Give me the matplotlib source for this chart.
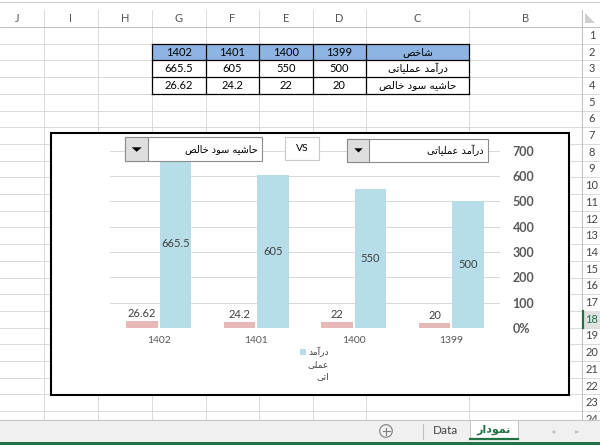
import numpy as np
import matplotlib
matplotlib.use("Agg")
import matplotlib.pyplot as plt
from matplotlib.patches import Rectangle, Polygon, Circle

# داده‌های جدول و نمودار
years = ["1399", "1400", "1401", "1402"]
revenue = [500, 550, 605, 665.5]
margin = [20, 22, 24.2, 26.62]
head_label = "شاخص"
row_labels = ["درآمد عملیاتی", "حاشیه سود خالص"]
legend_lines = ["درآمد", "عملی", "اتی"]
y_ticks = [0, 100, 200, 300, 400, 500, 600, 700]
y_tick_labels = ["0%", "100", "200", "300", "400", "500", "600", "700"]
col_letters = ["J", "I", "H", "G", "F", "E", "D", "C", "B"]
tab_names = ["Data", "نمودار"]

BLUE = "#b7dde8"
PINK = "#e6b8b7"
GREEN = "#217346"
AR = ["DejaVu Sans"]

# matplotlib has no arabic shaping, so pick presentation forms by hand
FORMS = {
    "\u0627": ("\uFE8D", "\uFE8E", None, None),
    "\u0622": ("\uFE81", "\uFE82", None, None),
    "\u062A": ("\uFE95", "\uFE96", "\uFE97", "\uFE98"),
    "\u062D": ("\uFEA1", "\uFEA2", "\uFEA3", "\uFEA4"),
    "\u062E": ("\uFEA5", "\uFEA6", "\uFEA7", "\uFEA8"),
    "\u062F": ("\uFEA9", "\uFEAA", None, None),
    "\u0631": ("\uFEAD", "\uFEAE", None, None),
    "\u0633": ("\uFEB1", "\uFEB2", "\uFEB3", "\uFEB4"),
    "\u0634": ("\uFEB5", "\uFEB6", "\uFEB7", "\uFEB8"),
    "\u0635": ("\uFEB9", "\uFEBA", "\uFEBB", "\uFEBC"),
    "\u0639": ("\uFEC9", "\uFECA", "\uFECB", "\uFECC"),
    "\u0644": ("\uFEDD", "\uFEDE", "\uFEDF", "\uFEE0"),
    "\u0645": ("\uFEE1", "\uFEE2", "\uFEE3", "\uFEE4"),
    "\u0646": ("\uFEE5", "\uFEE6", "\uFEE7", "\uFEE8"),
    "\u0647": ("\uFEE9", "\uFEEA", "\uFEEB", "\uFEEC"),
    "\u0648": ("\uFEED", "\uFEEE", None, None),
    "\u06CC": ("\uFEEF", "\uFEF0", "\uFEF3", "\uFEF4"),
}


def fa(s):
    out = []
    for i, ch in enumerate(s):
        f = FORMS.get(ch)
        if f is None:
            out.append(ch)
            continue
        prev = s[i - 1] if i > 0 else ""
        nxt = s[i + 1] if i + 1 < len(s) else ""
        jp = prev in FORMS and FORMS[prev][2] is not None
        jn = f[2] is not None and nxt in FORMS
        if jp and jn:
            out.append(f[3])
        elif jp:
            out.append(f[1])
        elif jn:
            out.append(f[2])
        else:
            out.append(f[0])
    return "".join(reversed(out))


plt.rcParams["font.family"] = ["Lato", "DejaVu Sans"]

fig = plt.figure(figsize=(6, 4.45), dpi=100)

# sheet background in pixel coords
bg = fig.add_axes([0, 0, 1, 1], zorder=0)
bg.set_xlim(0, 600)
bg.set_ylim(445, 0)
bg.axis("off")

bounds = [-9.5, 44, 97.6, 152, 205.5, 259, 312.5, 366, 469, 582]
row_h = 16.7
top = 27

bg.plot([0, 600], [1.5, 1.5], color="#d0d0d0", lw=0.8)
for xb in bounds[1:]:
    bg.plot([xb, xb], [10, 420], color="#d9d9d9", lw=0.7, zorder=1)
for k in range(26):
    yk = top + k * row_h
    bg.plot([0, 600], [yk, yk], color="#d9d9d9", lw=0.7, zorder=1)
bg.plot([0, 600], [top, top], color="#c0c0c0", lw=0.7, zorder=1)
bg.plot([582, 582], [10, 420], color="#c0c0c0", lw=0.7, zorder=1)

for j, letter in enumerate(col_letters):
    bg.text((bounds[j] + bounds[j + 1]) / 2, 19, letter, ha="center", va="center",
            fontsize=8, color="#555555")
bg.add_patch(Polygon([(585, 13), (585, 23), (595, 23)], fc="#cfcfcf", ec="none"))

bg.add_patch(Rectangle((582.5, top + 17 * row_h), 17.5, row_h, fc="#e1e1e1", ec="none", zorder=1.5))
bg.plot([582.5, 582.5], [top + 17 * row_h, top + 18 * row_h], color=GREEN, lw=1.6, zorder=2)
for r in range(1, 25):
    bg.text(592, top + (r - 0.5) * row_h, str(r), ha="center", va="center", fontsize=8,
            color=GREEN if r == 18 else "#444444", zorder=2)

# data table
t_rows = [top + row_h, top + 2 * row_h, top + 3 * row_h, top + 4 * row_h]
bg.add_patch(Rectangle((bounds[3], t_rows[0]), bounds[8] - bounds[3], row_h,
                       fc="#8db4e2", ec="none", zorder=2))
for yk in t_rows:
    bg.plot([bounds[3], bounds[8]], [yk, yk], color="black", lw=0.9, zorder=3)
for xb in bounds[3:9]:
    bg.plot([xb, xb], [t_rows[0], t_rows[3]], color="black", lw=0.9, zorder=3)
for i, yr in enumerate(years):
    xc = (bounds[6 - i] + bounds[7 - i]) / 2
    for r, val in enumerate([yr, f"{revenue[i]:g}", f"{margin[i]:g}"]):
        bg.text(xc, t_rows[r] + row_h / 2, val, ha="center", va="center", fontsize=8,
                color="black", zorder=4)
xc = (bounds[7] + bounds[8]) / 2
for r, lab in enumerate([head_label] + row_labels):
    bg.text(xc, t_rows[r] + row_h / 2, fa(lab), ha="center", va="center", fontsize=7.5,
            family=AR, color="black", zorder=4)

# chart frame
bg.add_patch(Rectangle((50.5, 132.5), 518.5, 262, fc="white", ec="black", lw=1.5, zorder=5))

# sheet tabs
bg.add_patch(Rectangle((0, 420), 600, 22, fc="#f0f0f0", ec="none", zorder=10))
bg.plot([0, 600], [420, 420], color="#c6c6c6", lw=0.8, zorder=11)
bg.add_patch(Rectangle((0, 442), 600, 3, fc=GREEN, ec="none", zorder=11))
bg.add_patch(Rectangle((470, 420), 48, 19, fc="white", ec="#c6c6c6", lw=0.7, zorder=11))
bg.plot([470, 518], [439, 439], color=GREEN, lw=1.6, zorder=12)
bg.plot([422.7, 422.7], [424, 439], color="#c0c0c0", lw=0.8, zorder=11)
bg.add_patch(Circle((386, 431), 6.3, fc="none", ec="#7f7f7f", lw=0.8, zorder=11))
bg.plot([382.5, 389.5], [431, 431], color="#7f7f7f", lw=0.8, zorder=12)
bg.plot([386, 386], [427.5, 434.5], color="#7f7f7f", lw=0.8, zorder=12)
bg.text(445, 431, tab_names[0], ha="center", va="center", fontsize=8.5, color="#444444", zorder=12)
bg.text(494, 430, fa(tab_names[1]), ha="center", va="center", fontsize=8, family=AR,
        fontweight="bold", color=GREEN, zorder=12)
bg.text(553, 431, "\u25C2", ha="center", va="center", fontsize=6, color="#c0c0c0", zorder=12)
bg.text(577, 431, "\u25B8", ha="center", va="center", fontsize=6, color="#c0c0c0", zorder=12)

# the chart itself
ax = fig.add_axes([110 / 600, (445 - 327.8) / 445, 390 / 600, (327.8 - 150.7) / 445], zorder=2)
ax.patch.set_alpha(0)
x = np.arange(len(years))
w = 0.325
off = 0.172
ax.bar(x + off, margin, w, color=PINK, lw=0)
ax.bar(x - off, revenue, w, color=BLUE, lw=0)
for xi, v in zip(x, revenue):
    ax.text(xi - off, v / 2, f"{v:g}", ha="center", va="center", fontsize=8, color="#404040")
for xi, v in zip(x, margin):
    ax.annotate(f"{v:g}", (xi + off, v), xytext=(0, 1.5), textcoords="offset points",
                ha="center", va="bottom", fontsize=8, color="#404040")
ax.set_xlim(3.5, -0.5)
ax.set_ylim(0, 700)
ax.set_yticks(y_ticks, y_tick_labels, fontweight="bold")
ax.yaxis.tick_right()
ax.set_xticks(x, years)
ax.tick_params(axis="y", length=0, pad=9, labelsize=9, labelcolor="#595959")
ax.tick_params(axis="x", length=0, pad=6, labelsize=7.5, labelcolor="#595959")
ax.grid(axis="y", color="#d9d9d9", lw=0.75)
ax.set_axisbelow(True)
for s in ax.spines.values():
    s.set_visible(False)

# overlay: dropdowns and legend
ov = fig.add_axes([0, 0, 1, 1], zorder=3)
ov.set_xlim(0, 600)
ov.set_ylim(445, 0)
ov.axis("off")

ov.add_patch(Rectangle((125, 137.3), 137.3, 23.4, fc="white", ec="#8c8c8c", lw=0.8))
ov.add_patch(Rectangle((125, 137.3), 22.7, 23.4, fc="#dedede", ec="#8c8c8c", lw=0.8))
ov.add_patch(Polygon([(131.7, 147.3), (141.7, 147.3), (136.7, 151.8)], fc="black", ec="none"))
ov.text(258, 149.3, fa(row_labels[1]), ha="right", va="center", fontsize=7, family=AR, color="black")

ov.add_patch(Rectangle((285, 136.7), 34, 23.3, fc="white", ec="#c8c8c8", lw=0.8))
ov.text(302, 148.5, "VS", ha="center", va="center", fontsize=7.5, color="black")

ov.add_patch(Rectangle((347.3, 139), 140.4, 22.7, fc="white", ec="#8c8c8c", lw=0.8))
ov.add_patch(Rectangle((347.3, 139), 21.7, 22.7, fc="#dedede", ec="#8c8c8c", lw=0.8))
ov.add_patch(Polygon([(354.3, 148.3), (362.7, 148.3), (358.5, 152.5)], fc="black", ec="none"))
ov.text(484, 150.5, fa(row_labels[0]), ha="right", va="center", fontsize=7, family=AR, color="black")

ov.add_patch(Rectangle((300, 349), 6, 6, fc=BLUE, ec="none"))
for k, line in enumerate(legend_lines):
    ov.text(329, 352 + k * 12.3, fa(line), ha="right", va="center", fontsize=6.5, family=AR,
            color="#404040")

fig.savefig("out.png", dpi=100)
